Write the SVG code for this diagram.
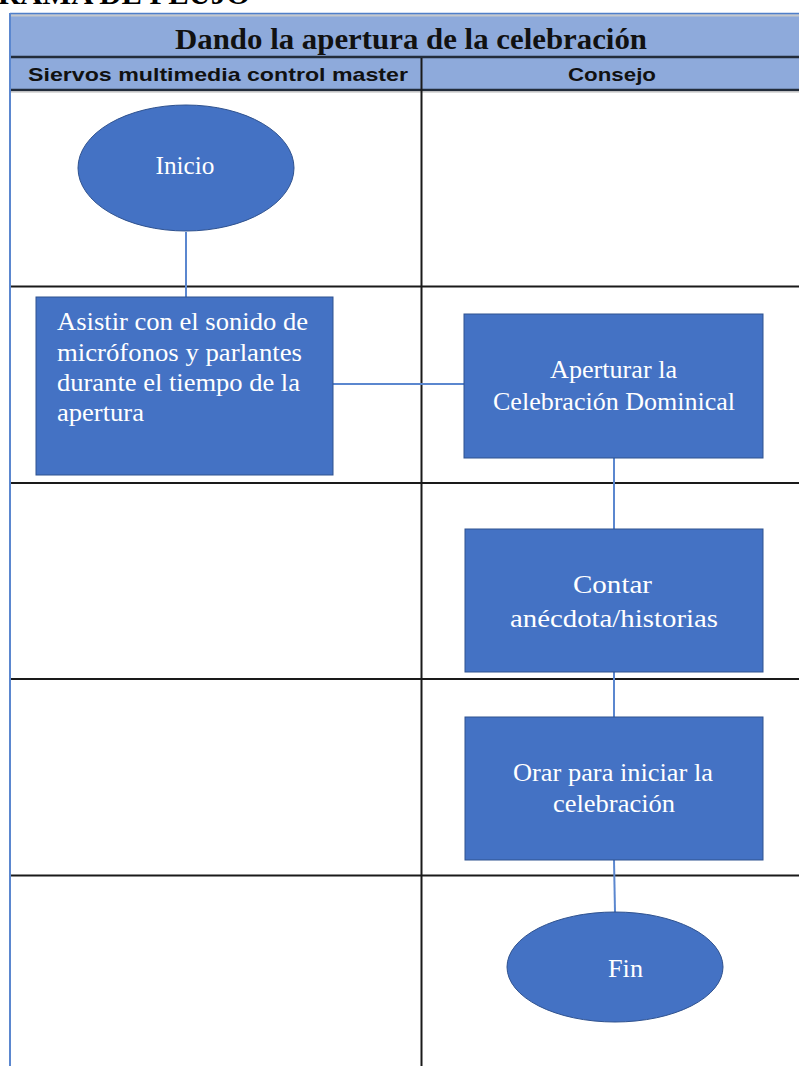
<svg xmlns="http://www.w3.org/2000/svg" width="799" height="1066" viewBox="0 0 799 1066">
<style>
.lane{stroke:#1a1a1a;stroke-width:2;fill:none}
.node{fill:#4472c4;stroke:#2f528f;stroke-width:1}
.conn{stroke:#5b87cf;stroke-width:2;fill:none}
.nt{font-family:"Liberation Serif",serif;font-size:25px;fill:#ffffff}
.hd{font-family:"Liberation Sans",sans-serif;font-weight:bold;font-size:19px;fill:#111}
</style>
<rect width="799" height="1066" fill="#ffffff"/>
<text x="-2" y="4" font-family="Liberation Serif,serif" font-weight="bold" font-size="30" fill="#000" textLength="252" lengthAdjust="spacingAndGlyphs">RAMA DE FLUJO</text>
<g id="table">
<rect x="10" y="13" width="800" height="78" fill="#8eaadb"/>
<line x1="10" y1="13.5" x2="799" y2="13.5" stroke="#4f7fc9" stroke-width="1.5"/>
<line x1="11" y1="15.5" x2="799" y2="15.5" stroke="#c4c8cc" stroke-width="2"/>
<line x1="11" y1="57" x2="799" y2="57" stroke="#222c3a" stroke-width="2.5"/>
<line x1="11" y1="90" x2="799" y2="90" stroke="#222c3a" stroke-width="2.5"/>
<line x1="11" y1="92" x2="799" y2="92" stroke="#b8b8b8" stroke-width="1"/>
<line x1="10" y1="13" x2="10" y2="1066" stroke="#5b87cf" stroke-width="2"/>
<line class="lane" x1="421.5" y1="58" x2="421.5" y2="1066"/>
<line class="lane" x1="11" y1="286.5" x2="799" y2="286.5"/>
<line class="lane" x1="11" y1="483" x2="799" y2="483"/>
<line class="lane" x1="11" y1="679" x2="799" y2="679"/>
<line class="lane" x1="11" y1="875.5" x2="799" y2="875.5"/>
<text x="411" y="49" text-anchor="middle" font-family="Liberation Serif,serif" font-weight="bold" font-size="30" fill="#111" textLength="472" lengthAdjust="spacingAndGlyphs">Dando la apertura de la celebración</text>
<text class="hd" x="218" y="81" text-anchor="middle" textLength="380" lengthAdjust="spacingAndGlyphs">Siervos multimedia control master</text>
<text class="hd" x="612" y="81" text-anchor="middle" font-size="20" textLength="88" lengthAdjust="spacingAndGlyphs">Consejo</text>
</g>
<g id="connectors">
<line class="conn" x1="186" y1="232" x2="186" y2="297"/>
<line class="conn" x1="333" y1="384" x2="464" y2="384"/>
<line class="conn" x1="614" y1="458" x2="614" y2="529"/>
<line class="conn" x1="614" y1="672" x2="614" y2="717"/>
<line class="conn" x1="614" y1="860" x2="615" y2="912"/>
</g>
<g id="inicio">
<ellipse class="node" cx="186" cy="168" rx="108" ry="63"/>
<text class="nt" x="185" y="174" text-anchor="middle" textLength="59" lengthAdjust="spacingAndGlyphs">Inicio</text>
</g>
<g id="asistir">
<rect class="node" x="36" y="297" width="297" height="178"/>
<text class="nt" x="57" y="330" textLength="251" lengthAdjust="spacingAndGlyphs">Asistir con el sonido de</text>
<text class="nt" x="57" y="361" textLength="245" lengthAdjust="spacingAndGlyphs">micrófonos  y parlantes</text>
<text class="nt" x="57" y="391" textLength="243" lengthAdjust="spacingAndGlyphs">durante el tiempo  de la</text>
<text class="nt" x="57" y="421" textLength="87" lengthAdjust="spacingAndGlyphs">apertura</text>
</g>
<g id="aperturar">
<rect class="node" x="464" y="314" width="299" height="144"/>
<text class="nt" x="613.5" y="378" text-anchor="middle" textLength="127" lengthAdjust="spacingAndGlyphs">Aperturar la</text>
<text class="nt" x="614" y="410" text-anchor="middle" textLength="242" lengthAdjust="spacingAndGlyphs">Celebración  Dominical</text>
</g>
<g id="contar">
<rect class="node" x="465" y="529" width="298" height="143"/>
<text class="nt" x="612.5" y="593" text-anchor="middle" font-size="30" textLength="79" lengthAdjust="spacingAndGlyphs">Contar</text>
<text class="nt" x="614" y="627" text-anchor="middle" font-size="30" textLength="208" lengthAdjust="spacingAndGlyphs">anécdota/historias</text>
</g>
<g id="orar">
<rect class="node" x="465" y="717" width="298" height="143"/>
<text class="nt" x="613" y="781" text-anchor="middle" textLength="200" lengthAdjust="spacingAndGlyphs">Orar  para iniciar  la</text>
<text class="nt" x="614" y="812" text-anchor="middle" textLength="122" lengthAdjust="spacingAndGlyphs">celebración</text>
</g>
<g id="fin">
<ellipse class="node" cx="615" cy="967" rx="108" ry="55"/>
<text class="nt" x="625.5" y="977" text-anchor="middle" textLength="35" lengthAdjust="spacingAndGlyphs">Fin</text>
</g>
</svg>
